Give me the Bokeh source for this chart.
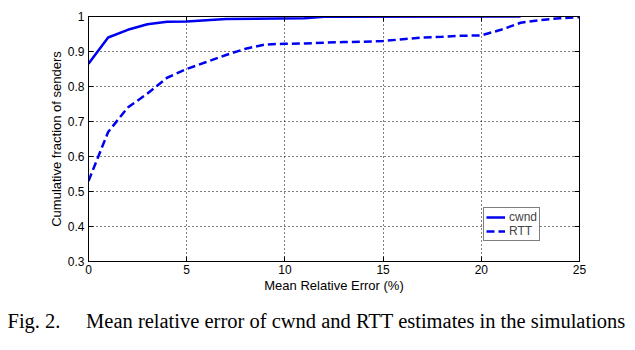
from bokeh.plotting import figure
from bokeh.models import (LinearAxis, FixedTicker, Legend, LegendItem, Title, Range1d)
from bokeh.embed import file_html
from bokeh.resources import INLINE

# data
cwnd_x = [0, 1, 2, 3, 4, 5, 7, 11, 12, 22]
cwnd_y = [0.865, 0.94, 0.962, 0.978, 0.985, 0.986, 0.993, 0.995, 0.999, 1.0]
rtt_x = list(range(0, 26))
rtt_y = [0.53, 0.67, 0.74, 0.78, 0.825, 0.85, 0.87, 0.89, 0.908, 0.92,
         0.922, 0.923, 0.925, 0.927, 0.928, 0.93, 0.935, 0.94, 0.942, 0.945,
         0.946, 0.962, 0.982, 0.99, 0.995, 0.998]
x_ticks = [0, 5, 10, 15, 20, 25]
y_ticks = [0.3, 0.4, 0.5, 0.6, 0.7, 0.8, 0.9, 1.0]

FONT = "Liberation Sans"
BLUE = "#0000f0"

p = figure(width=635, height=350, output_backend="svg", toolbar_location=None,
           x_range=Range1d(0, 25), y_range=Range1d(0.3, 1.0),
           min_border_left=88, min_border_right=56, min_border_top=16,
           min_border_bottom=89)
p.outline_line_color = "black"
p.outline_line_width = 1
p.background_fill_color = "white"
p.border_fill_color = "white"

def style_axis(ax, labels=True):
    ax.axis_line_color = "black"
    ax.major_tick_line_color = "black"
    ax.major_tick_in = 5
    ax.major_tick_out = 0
    ax.minor_tick_line_color = None
    ax.major_label_text_font = FONT
    ax.major_label_text_font_size = "12px"
    ax.major_label_text_color = "black"
    if not labels:
        ax.major_label_text_font_size = "0px"
        ax.major_label_text_color = None
        ax.major_label_standoff = 0

p.xaxis.ticker = FixedTicker(ticks=x_ticks)
p.yaxis.ticker = FixedTicker(ticks=y_ticks)
p.yaxis.major_label_overrides = {1.0: "1"}
style_axis(p.xaxis[0])
style_axis(p.yaxis[0])
p.xaxis.axis_label = "Mean Relative Error (%)"
p.yaxis.axis_label = "Cumulative fraction of senders"
for ax in (p.xaxis[0], p.yaxis[0]):
    ax.axis_label_text_font = FONT
    ax.axis_label_text_font_size = "13px"
    ax.axis_label_text_font_style = "normal"
    ax.axis_label_text_color = "black"
p.xaxis.major_label_standoff = 3
p.yaxis.major_label_standoff = 4
p.xaxis.axis_label_standoff = 1
p.yaxis.axis_label_standoff = 1

top = LinearAxis(ticker=FixedTicker(ticks=x_ticks))
right = LinearAxis(ticker=FixedTicker(ticks=y_ticks))
style_axis(top, labels=False)
style_axis(right, labels=False)
p.add_layout(top, "above")
p.add_layout(right, "right")

p.grid.grid_line_color = "black"
p.grid.grid_line_dash = "1 3"
p.grid.grid_line_width = 1
p.xgrid.ticker = FixedTicker(ticks=x_ticks[1:-1])
p.ygrid.ticker = FixedTicker(ticks=y_ticks[1:-1])

r1 = p.line(cwnd_x, cwnd_y, line_color=BLUE, line_width=2.5)
r2 = p.line(rtt_x, rtt_y, line_color=BLUE, line_width=2.5, line_dash="8 4")

legend = Legend(items=[LegendItem(label="cwnd", renderers=[r1]),
                       LegendItem(label="RTT", renderers=[r2])],
                location=(395, 20))
legend.border_line_color = "black"
legend.border_line_width = 1
legend.label_text_font = FONT
legend.label_text_font_size = "12px"
legend.glyph_width = 19
legend.glyph_height = 12
legend.label_height = 12
legend.label_standoff = 4
legend.spacing = 0
legend.padding = 2
legend.margin = 0
p.add_layout(legend)

cap = Title(text="Fig. 2.\u2003\u00a0Mean relative error of cwnd and RTT estimates in the simulations",
            align="left", offset=-81, standoff=24,
            text_font="Liberation Serif", text_font_size="20.5px",
            text_font_style="normal", text_color="black")
p.add_layout(cap, "below")

open("out.html", "w").write(file_html(p, INLINE))
